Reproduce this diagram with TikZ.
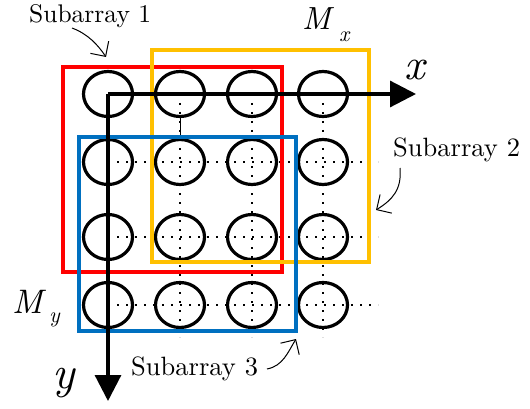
\documentclass[tikz,border=0pt]{standalone}
\usepackage{fontspec}
\setmainfont{lmroman10-regular.otf}[ItalicFont=lmroman10-italic.otf, BoldFont=lmroman10-bold.otf]
\usetikzlibrary{arrows.meta,shapes.geometric,calc}
\definecolor{subred}{HTML}{FF0000}
\definecolor{suborange}{HTML}{FFC000}
\definecolor{subblue}{HTML}{0070C0}
\tikzset{
  elem/.style={draw=black, line width=3.2pt, ellipse, minimum width=49pt, minimum height=45pt, inner sep=0pt},
  grid dots/.style={line width=2.1pt, dash pattern=on 2.1pt off 6.9pt},
  axisline/.style={line width=3.2pt, -{Triangle[length=26pt,width=26pt]}},
  frame/.style={line width=3.2pt},
  leader/.style={line width=1pt, -{Straight Barb[length=11pt,width=22pt]}},
  lbl/.style={inner sep=0pt, anchor=base west},
}
\begin{document}
\begin{tikzpicture}[x=1pt,y=-1pt]
\useasboundingbox (0,0) rectangle (530,409);
% element positions
\foreach \i/\xx in {1/108,2/180,3/252,4/323}{
  \foreach \j/\yy in {1/94,2/162,3/237,4/305}{
    \coordinate (p\i\j) at (\xx,\yy);
  }
}
% dotted grid lines
\foreach \j in {2,3,4}{
  \coordinate (re\j) at ($(p4\j)+(55,0)$);
  \draw[grid dots] (p1\j) -- (re\j);
}
\foreach \i in {2,3,4}{
  \coordinate (be\i) at ($(p\i4)+(0,32)$);
  \draw[grid dots] (p\i1) -- (be\i);
}
% elements
\foreach \i in {1,2,3,4}{
  \foreach \j in {1,2,3,4}{
    \node[elem] (c\i\j) at (p\i\j) {};
  }
}
\draw[line width=1pt] (c21.south) -- (c22.north);
% subarray frames
\draw[frame, subred] (63,67) rectangle (282,272);
\draw[frame, suborange] (152,50) rectangle (369,262);
\draw[frame, subblue] (79,137) rectangle (296,331);
% axes
\coordinate (xend) at (416,94);
\coordinate (yend) at (108,401);
\draw[axisline] (p11) -- (xend);
\draw[axisline] (p11) -- (yend);
% labels
\node[lbl, font=\fontsize{44}{44}\selectfont\itshape] (xl) at (404,80) {x};
\node[lbl, font=\fontsize{46}{46}\selectfont\itshape] (yl) at (52,388) {y};
\node[lbl, font=\fontsize{32}{32}\selectfont\itshape] (mx) at (302,30) {M};
\node[lbl, font=\fontsize{22}{22}\selectfont\itshape] (mxs) at (339,42) {x};
\node[lbl, font=\fontsize{34}{34}\selectfont\itshape] (my) at (12,313) {M};
\node[lbl, font=\fontsize{22}{22}\selectfont\itshape] (mys) at (49,322) {y};
\node[lbl, font=\fontsize{25.5}{26}\selectfont] (s1) at (29,23) {Subarray 1};
\node[lbl, font=\fontsize{26.5}{27}\selectfont] (s2) at (393,157) {Subarray 2};
\node[lbl, font=\fontsize{26.5}{27}\selectfont] (s3) at (131,375) {Subarray 3};
% leaders
\coordinate (t1) at (106,57);
\coordinate (t2) at (376,210);
\coordinate (t3) at (296,339);
\draw[leader] (72,28) .. controls (88,34) and (98,45) .. (t1);
\draw[leader] (400,168) .. controls (402,190) and (392,200) .. (t2);
\draw[leader] (267,369) .. controls (283,366) and (288,352) .. (t3);
\end{tikzpicture}
\end{document}
